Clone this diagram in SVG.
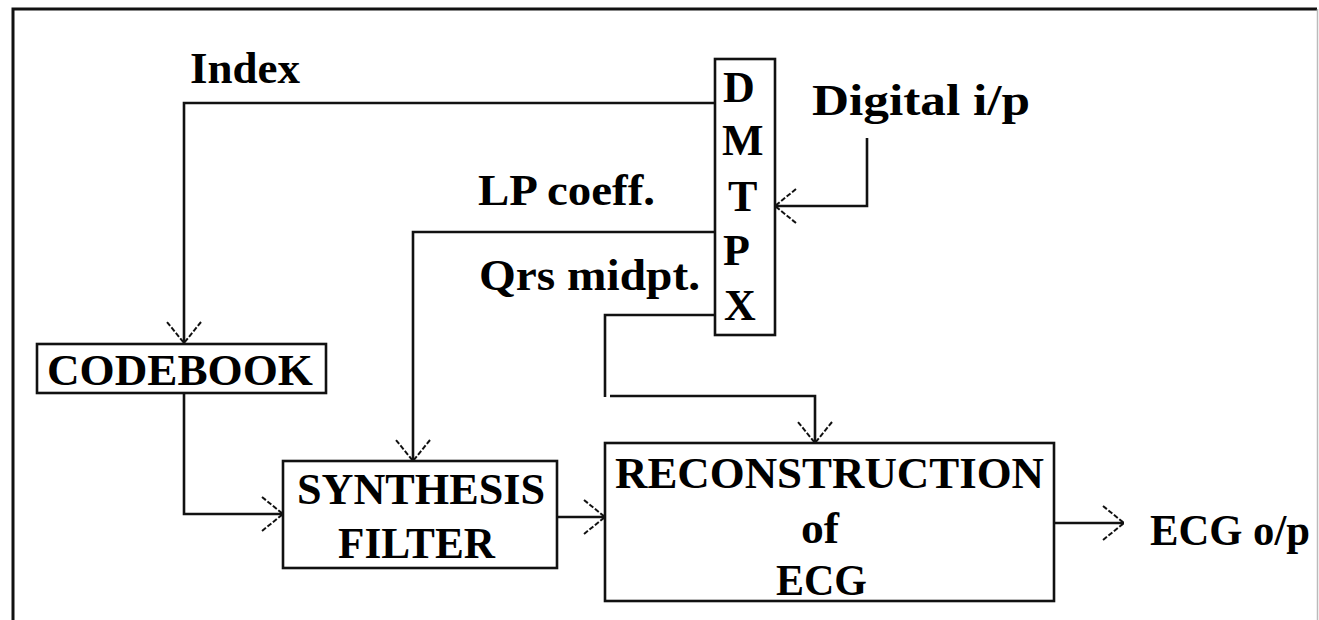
<svg xmlns="http://www.w3.org/2000/svg" width="1319" height="620" viewBox="0 0 1319 620">
<style>
.box{fill:#fff;stroke:#111;stroke-width:2.6}
.ln{fill:none;stroke:#111;stroke-width:2.6}
.t{font-family:"Liberation Serif","Times New Roman",serif;font-weight:bold;font-size:44px;fill:#000}
.ah{fill:none;stroke:#111;stroke-width:2;stroke-dasharray:5 2}
</style>
<defs>
<marker id="arr" markerUnits="userSpaceOnUse" markerWidth="30" markerHeight="40" viewBox="-24 -20 28 40" refX="0" refY="0" orient="auto" overflow="visible">
<path class="ah" d="M-21,-17 L0,0 L-21,17"/>
</marker>
</defs>
<rect width="1319" height="620" fill="#fff"/>
<g id="frame">
<path d="M13,625 V9 H1317" fill="none" stroke="#111" stroke-width="3"/>
<line x1="1317.5" y1="9" x2="1317.5" y2="620" stroke="#bbb" stroke-width="1.5"/>
</g>
<g id="connectors">
<path class="ln" d="M715,103 H184 V343" marker-end="url(#arr)"/>
<path class="ln" d="M184,393 V514 H283" marker-end="url(#arr)"/>
<path class="ln" d="M715,232 H413 V461" marker-end="url(#arr)"/>
<path class="ln" d="M557,517 H605" marker-end="url(#arr)"/>
<path class="ln" d="M715,315 H605 V397 M610,396 H815 V443" marker-end="url(#arr)"/>
<path class="ln" d="M867,138 V206 H775" marker-end="url(#arr)"/>
<path class="ln" d="M1054,523 H1124" marker-end="url(#arr)"/>
</g>
<g id="labels">
<text class="t" x="190" y="83" textLength="110" lengthAdjust="spacingAndGlyphs">Index</text>
<text class="t" x="812" y="115" textLength="218" lengthAdjust="spacingAndGlyphs">Digital i/p</text>
<text class="t" x="478" y="205" textLength="177" lengthAdjust="spacingAndGlyphs">LP coeff.</text>
<text class="t" x="479" y="290" textLength="221" lengthAdjust="spacingAndGlyphs">Qrs midpt.</text>
<text class="t" x="1150" y="545" textLength="160" lengthAdjust="spacingAndGlyphs">ECG o/p</text>
</g>
<g id="dmtpx">
<rect class="box" x="715" y="59" width="60" height="276"/>
<text class="t" x="723" y="102">D</text>
<text class="t" x="722" y="155">M</text>
<text class="t" x="728" y="211">T</text>
<text class="t" x="723" y="265">P</text>
<text class="t" x="724" y="320">X</text>
</g>
<g id="codebook">
<rect class="box" x="37" y="344" width="289" height="49"/>
<text class="t" x="47" y="385" textLength="266" lengthAdjust="spacingAndGlyphs">CODEBOOK</text>
</g>
<g id="synthesis">
<rect class="box" x="283" y="461" width="274" height="107"/>
<text class="t" x="297" y="504" textLength="248" lengthAdjust="spacingAndGlyphs">SYNTHESIS</text>
<text class="t" x="338" y="558" textLength="157" lengthAdjust="spacingAndGlyphs">FILTER</text>
</g>
<g id="reconstruction">
<rect class="box" x="605" y="443" width="449" height="158"/>
<text class="t" x="615" y="488" textLength="429" lengthAdjust="spacingAndGlyphs">RECONSTRUCTION</text>
<text class="t" x="801" y="543" textLength="38" lengthAdjust="spacingAndGlyphs">of</text>
<text class="t" x="776" y="595" textLength="91" lengthAdjust="spacingAndGlyphs">ECG</text>
</g>
</svg>
